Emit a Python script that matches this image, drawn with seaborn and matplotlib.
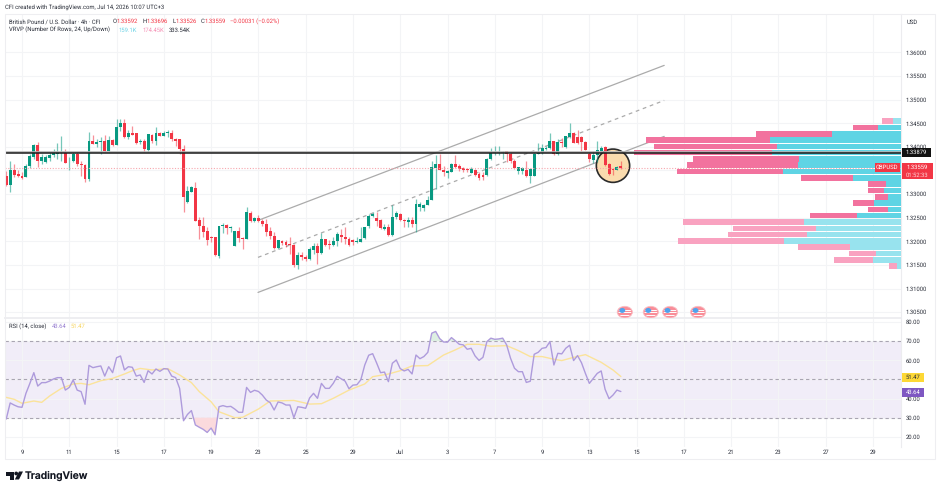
import numpy as np
import pandas as pd
import matplotlib
matplotlib.use("Agg")
import matplotlib.pyplot as plt
from matplotlib.patches import Ellipse, Polygon, Rectangle, Circle
import seaborn as sns

# GBP/USD 4h candles, one row per bar (prices in 1/10000 units)
OPEN = [13339,13320,13350,13343,13339,13336,13359,13378,13404,13370,13368,13377,13382,13385,13386,13387,13369,13370,13385,13363,13361,13332,13413,13407,13411,13413,13391,13415,13403,13442,13450,13420,13429,13429,13410,13413,13394,13426,13413,13429,13424,13430,13430,13417,13416,13395,13284,13305,13313,13246,13232,13221,13210,13209,13168,13232,13235,13228,13191,13221,13207,13205,13260,13243,13249,13244,13237,13221,13211,13185,13200,13198,13193,13192,13150,13170,13166,13162,13182,13190,13175,13205,13195,13193,13200,13214,13209,13205,13202,13198,13198,13207,13232,13253,13249,13245,13226,13230,13214,13251,13258,13245,13240,13245,13236,13272,13271,13277,13288,13356,13364,13352,13345,13347,13364,13360,13356,13353,13345,13352,13343,13341,13341,13375,13387,13387,13387,13391,13385,13371,13348,13348,13351,13339,13339,13384,13389,13396,13398,13412,13385,13410,13399,13420,13429,13420,13420,13411,13385,13373,13383,13392,13399,13364,13353,13351,13359]
HIGH = [13348,13369,13364,13350,13346,13364,13385,13406,13410,13385,13382,13389,13396,13408,13422,13396,13378,13389,13389,13370,13364,13432,13426,13417,13420,13425,13424,13417,13460,13458,13459,13435,13444,13429,13417,13417,13428,13428,13443,13431,13433,13435,13436,13418,13417,13403,13318,13318,13325,13251,13252,13230,13212,13209,13233,13238,13237,13233,13221,13231,13209,13272,13265,13251,13255,13247,13247,13230,13219,13203,13202,13202,13209,13195,13177,13177,13170,13187,13196,13196,13218,13205,13202,13209,13219,13226,13230,13209,13205,13209,13230,13230,13258,13262,13262,13247,13237,13237,13276,13265,13259,13247,13251,13251,13290,13283,13279,13295,13371,13382,13384,13360,13350,13365,13382,13364,13357,13356,13357,13353,13346,13346,13376,13398,13401,13401,13392,13392,13389,13375,13358,13358,13371,13356,13387,13408,13406,13401,13429,13413,13417,13419,13424,13451,13431,13435,13424,13412,13389,13392,13412,13401,13401,13365,13356,13360,13370]
LOW = [13318,13305,13336,13336,13332,13336,13355,13375,13358,13364,13365,13371,13378,13375,13371,13365,13350,13368,13360,13339,13325,13327,13406,13399,13384,13389,13389,13401,13403,13433,13419,13417,13426,13406,13406,13389,13389,13408,13403,13422,13422,13420,13413,13401,13385,13262,13281,13305,13243,13205,13209,13193,13198,13168,13164,13217,13216,13219,13189,13198,13184,13205,13240,13240,13240,13233,13212,13205,13184,13184,13193,13187,13173,13145,13142,13161,13158,13161,13173,13152,13173,13191,13184,13191,13191,13198,13195,13191,13193,13196,13198,13205,13228,13251,13233,13226,13223,13212,13212,13247,13244,13230,13230,13230,13219,13265,13264,13276,13287,13311,13350,13339,13334,13346,13356,13348,13346,13346,13344,13339,13329,13329,13339,13373,13382,13382,13375,13368,13365,13353,13343,13343,13337,13323,13339,13384,13385,13394,13396,13382,13382,13399,13398,13419,13408,13406,13392,13394,13368,13365,13368,13389,13360,13341,13341,13350,13353]
CLOSE = [13320,13350,13341,13338,13334,13360,13380,13403,13370,13378,13378,13383,13387,13389,13387,13365,13370,13385,13363,13361,13332,13413,13407,13410,13413,13391,13415,13403,13443,13450,13420,13429,13426,13408,13413,13395,13428,13413,13429,13423,13430,13431,13416,13413,13395,13293,13306,13315,13243,13232,13219,13202,13208,13170,13232,13234,13228,13229,13221,13206,13205,13261,13244,13250,13243,13236,13219,13211,13186,13202,13197,13192,13192,13150,13170,13166,13162,13183,13190,13175,13205,13192,13192,13200,13216,13209,13205,13192,13198,13200,13205,13230,13254,13258,13244,13228,13230,13214,13251,13259,13245,13242,13245,13236,13279,13278,13277,13288,13357,13364,13352,13347,13348,13364,13358,13353,13351,13350,13353,13341,13335,13336,13375,13387,13389,13389,13390,13385,13371,13356,13357,13355,13339,13353,13384,13387,13397,13398,13413,13385,13410,13408,13422,13430,13408,13408,13410,13394,13375,13383,13394,13398,13362,13343,13351,13358,13356]

# RSI(14) per bar and its smoothing line, sampled at selected bars
RSI = [29.3,37.7,36.6,35.7,35.4,42.7,47.9,53.5,46.5,48.3,48.3,49.1,50.2,50.9,50.9,44.4,45.8,49.7,44.4,43.6,37.0,57.3,56.1,56.6,57.0,51.7,56.6,53.5,61.3,62.2,54.9,56.6,56.3,51.7,52.3,48.4,54.5,52.8,55.4,54.2,55.6,55.4,51.7,50.9,45.3,28.4,31.7,33.7,26.2,25.0,23.9,22.3,24.6,21.1,35.7,36.3,35.7,35.9,34.5,32.8,32.8,45.8,43.2,44.3,43.7,41.8,39.2,37.8,34.0,38.2,37.7,36.6,36.6,30.0,35.7,35.4,34.9,40.3,42.7,40.1,47.9,45.3,45.3,47.9,51.6,50.3,49.1,45.1,47.0,47.2,49.8,57.5,62.6,63.4,58.6,53.5,53.8,48.8,58.4,60.1,55.6,54.4,55.2,52.8,62.7,60.8,61.9,64.1,74.1,75.0,71.3,69.5,69.4,71.8,70.1,68.3,68.0,65.7,66.2,62.2,59.9,61.5,69.7,71.5,70.9,71.1,71.5,68.0,61.0,55.8,54.0,54.0,48.4,49.0,63.1,64.1,66.2,66.6,69.7,57.5,63.6,63.3,66.2,67.8,59.8,62.4,58.7,53.1,47.9,50.5,53.1,54.4,44.8,39.9,41.8,44.4,43.64]
RSI_MA_BARS = [1,3,5,8,10,12,15,18,20,22,25,28,31,33,35,38,42,45,48,50,53,55,59,61,65,68,74,78,81,84,88,92,94,98,101,104,108,112,115,118,121,124,128,131,134,137,140,142,145,148,152,155,157]
RSI_MA = [40.6,39.6,37.5,38.7,38.0,41.3,45.3,47.6,47.9,47.2,49.3,50.5,52.8,54.5,55.7,54.9,55.6,52.3,48.3,43.6,38.3,33.1,30.0,30.2,34.5,38.7,39.0,37.1,37.3,40.1,44.4,47.6,51.4,52.8,54.5,57.0,57.2,62.7,65.4,68.3,68.3,67.3,67.6,65.0,61.9,61.9,60.5,59.8,61.5,62.9,58.9,54.9,51.47]

# Visible-range volume profile, in thousands, from the highest price row down
VP_TOP_PRICE = 1.34544
VP_STEP = 0.001335
VP_UP = [0.9,2.6,7.7,14.6,13.8,14.3,11.3,11.4,13.1,5.3,1.7,1.9,1.4,3.0,1.5,4.9,10.8,9.4,10.4,13.0,5.7,2.8,3.1,0.4]
VP_DOWN = [1.2,2.7,8.4,13.7,13.7,15.4,11.8,12.4,11.8,5.8,2.0,1.8,1.5,2.3,2.2,5.2,13.4,9.3,8.8,11.8,5.8,3.0,4.3,0.9]
VP_IN_VALUE_AREA = [False]+[True]*15+[False]*8

# Rising channel, as (bar, price) end points
CHANNEL_BARS = [64.9, 168.0]
CHANNEL_UPPER = [1.32442, 1.35725]
CHANNEL_MID = [1.31659, 1.34983]
CHANNEL_LOWER = [1.30917, 1.34221]

LEVEL = 1.33879
LAST_PRICE = 1.33559
PRICE_TICKS = [1.305,1.31,1.315,1.32,1.325,1.33,1.335,1.34,1.345,1.35,1.355,1.36]
RSI_TICKS = [20,30,40,50,60,70,80]
DATE_LABELS = ["9","11","15","17","19","23","25","29","Jul","3","7","9","13","15","17","21","23","27","29"]
EVENT_BARS = [158, 164.6, 169.5, 176.6]

GREEN = "#089981"
RED = "#F23645"
TEXT = "#2A2E39"
GRID = "#F3F4F6"
FONT = ["Roboto", "DejaVu Sans"]
SMALL = 4.25

sns.set_theme(style="white")
plt.rcParams["font.family"] = FONT
plt.rcParams["text.hinting"] = "no_hinting"
W, H = 940, 491
fig = plt.figure(figsize=(W/100, H/100), dpi=100, facecolor="white")


def pane(x0, y0, x1, y1):
    return fig.add_axes([x0/W, 1-y1/H, (x1-x0)/W, (y1-y0)/H])


ax = pane(5, 14, 901, 318)
ax_rsi = pane(5, 319, 901, 447)

bars = pd.DataFrame({"bar": np.arange(1, len(OPEN)+1),
                     "open": np.array(OPEN)/1e4, "high": np.array(HIGH)/1e4,
                     "low": np.array(LOW)/1e4, "close": np.array(CLOSE)/1e4})
bars.loc[bars.index[-1], ["open", "high", "low", "close"]] = [1.33592, 1.33696, 1.33526, 1.33559]
bars["rsi"] = RSI
bars["colour"] = np.where(bars.close >= bars.open, GREEN, RED)

x_min, x_max = 0.685, 228.1
tick_bars = [5+12*i for i in range(len(DATE_LABELS))]

# price pane
ax.set_xlim(x_min, x_max)
ax.set_ylim(1.36-(318-52.4)/4722, 1.36+(52.4-14)/4722)
ax.set_yticks(PRICE_TICKS)
ax.set_yticklabels([f"{p:.5f}" for p in PRICE_TICKS])
ax.set_xticks(tick_bars)
ax.tick_params(axis="x", length=0, labelbottom=False)
ax.grid(True, color=GRID, lw=0.8)
ax.set_axisbelow(True)

for upper, style in ((CHANNEL_UPPER, "-"), (CHANNEL_MID, (0, (3, 3))), (CHANNEL_LOWER, "-")):
    sns.lineplot(x=CHANNEL_BARS, y=upper, ax=ax, color="#ABABAB", lw=0.9, ls=style, zorder=2)

ax.add_patch(Ellipse((155.0, 1.3360), 8.45, 0.00705, fc="#FBDCAE", ec="#2A2A2A", lw=1.2, zorder=3))

ax.vlines(bars.bar, bars.low, bars.high, colors=bars.colour, lw=0.9, alpha=0.55, zorder=4)
ax.bar(bars.bar, (bars.close-bars.open).abs().clip(lower=0.00012),
       bottom=bars[["open", "close"]].min(axis=1), width=0.74, color=bars.colour, lw=0, zorder=5)

# volume profile grows leftwards from the pane's right edge
ax_vp = ax.twiny()
ax_vp.set_xlim(896/9.0, 0)
ax_vp.axis("off")
vp_rows = VP_TOP_PRICE-VP_STEP*np.arange(len(VP_UP))
up_colours = ["#5FD4E4" if v else "#98E3EE" for v in VP_IN_VALUE_AREA]
down_colours = ["#F2729E" if v else "#F9A2C0" for v in VP_IN_VALUE_AREA]
ax_vp.barh(vp_rows, VP_UP, height=0.00118, color=up_colours, lw=0, zorder=2)
ax_vp.barh(vp_rows, VP_DOWN, left=VP_UP, height=0.00118, color=down_colours, lw=0, zorder=2)

ax_levels = ax.twinx()
ax_levels.set_ylim(ax.get_ylim())
ax_levels.set_xlim(x_min, x_max)
ax_levels.axis("off")
ax_levels.axhline(LAST_PRICE, color="#F7A7AE", lw=0.8, ls=(0, (1, 1.5)), zorder=1)
ax_levels.axhline(LEVEL+0.00008, color="#B5B5B5", lw=1.2, zorder=2)
ax_levels.axhline(LEVEL, color="#1B1B1B", lw=1.1, zorder=3)

# economic calendar markers
for bar in EVENT_BARS:
    centre = (bar, 1.3050)
    ax_levels.add_patch(Ellipse(centre, 3.85, 0.00245, fc="#F98D98", ec="#F9BEC4", lw=0.6, zorder=4))
    clip = Ellipse(centre, 3.3, 0.002, transform=ax_levels.transData)
    for off in (-0.00055, 0, 0.00055):
        stripe = ax_levels.plot([bar-1.7, bar+1.7], [1.3050+off]*2, color="white", lw=0.7, zorder=5)[0]
        stripe.set_clip_path(clip)
    ax_levels.add_patch(Ellipse((bar-0.65, 1.30535), 1.5, 0.00105, fc="#4FA3EE", lw=0, zorder=6))

# RSI pane
ax_rsi.set_xlim(x_min, x_max)
ax_rsi.set_ylim(14.7, 81.5)
ax_rsi.set_yticks(RSI_TICKS)
ax_rsi.set_yticklabels([f"{v:.2f}" for v in RSI_TICKS])
ax_rsi.set_xticks(tick_bars)
ax_rsi.set_xticklabels(DATE_LABELS)
ax_rsi.grid(True, color=GRID, lw=0.8)
ax_rsi.set_axisbelow(True)
ax_rsi.axhspan(30, 70, color="#7E57C2", alpha=0.10, lw=0, zorder=0.5)
for lvl in (30, 50, 70):
    ax_rsi.axhline(lvl, color="#A9A5B2", lw=0.8, ls=(0, (3, 2.5)), zorder=1)
ax_rsi.fill_between(bars.bar, bars.rsi, 30, where=bars.rsi < 30, color="#FBDADD", lw=0, interpolate=True, zorder=1)
ax_rsi.fill_between(bars.bar, bars.rsi, 70, where=bars.rsi > 70, color="#DDEFE2", lw=0, interpolate=True, zorder=1)
sns.lineplot(x=RSI_MA_BARS, y=RSI_MA, ax=ax_rsi, color="#FBE39A", lw=1.0, zorder=2)
sns.lineplot(data=bars, x="bar", y="rsi", ax=ax_rsi, color="#AE9BDC", lw=1.0, zorder=3)
ax_rsi.set_xlabel("")
ax_rsi.set_ylabel("")
ax.set_xlabel("")
ax.set_ylabel("")

for a in (ax, ax_rsi):
    a.yaxis.tick_right()
    a.tick_params(axis="y", length=0, pad=3.6, labelsize=SMALL, labelcolor=TEXT)
    a.tick_params(axis="x", length=0, pad=2.0, labelsize=SMALL, labelcolor=TEXT)
    for s in a.spines.values():
        s.set_visible(False)
    a.spines["right"].set_visible(True)
    a.spines["right"].set_color("#ECECEF")
    a.spines["right"].set_linewidth(0.8)
ax.spines["bottom"].set_visible(True)
ax.spines["bottom"].set_color("#ECECEF")

# overlay in figure pixels for header text, value tags and branding
deco = fig.add_axes([0, 0, 1, 1], zorder=10)
deco.set_xlim(0, W)
deco.set_ylim(H, 0)
deco.axis("off")
deco.add_patch(Rectangle((5, 14), 930, 445, fc="none", ec="#EEEEF1", lw=0.8))


def label(x, y, s, color=TEXT, size=SMALL, **kw):
    kw.setdefault("va", "center")
    return deco.text(x, y, s, color=color, fontsize=size, **kw)


def tag(x0, y0, x1, y1, color):
    deco.add_patch(Rectangle((x0, y0), x1-x0, y1-y0, fc=color, lw=0))


label(5, 7.5, "CFI created with TradingView.com, Jul 14, 2026 10:07 UTC+3")
label(9, 21.5, "British Pound / U.S. Dollar · 4h · CFI")
for x, s in ((113, "O"), (143, "H"), (173, "L"), (201, "C")):
    label(x, 21.5, s)
for x, s in ((117, "1.33592"), (147, "1.33696"), (176, "1.33526"), (205, "1.33559"), (230, "−0.00031 (−0.02%)")):
    label(x, 21.5, s, color=RED)
label(9, 30, "VRVP (Number Of Rows, 24, Up/Down)")
label(119, 30, "159.1K", color="#6ED3E6")
label(143, 30, "174.45K", color="#F58FB4")
label(169, 30, "333.54K")
label(9, 326.5, "RSI (14, close)")
label(52, 326.5, "43.64", color="#9A82D2")
label(71, 326.5, "51.47", color="#F7D560")
label(907, 22.5, "USD")

tag(875, 163, 899.5, 171.5, RED)
label(887, 167.2, "GBPUSD", color="white", size=4.2, ha="center")
tag(901.5, 163, 932.5, 179, RED)
label(917, 167, "1.33559", color="white", ha="center")
label(917, 175, "01:52:33", color="#FFD5D8", ha="center")
tag(901.5, 148, 931, 156.5, "#111111")
label(916, 152.2, "1.33879", color="white", ha="center")
tag(902, 373, 924, 381.5, "#FDD835")
label(913, 377, "51.47", ha="center")
tag(902, 388, 924, 396.5, "#7E57C2")
label(913, 392.2, "43.64", color="white", ha="center")

# TradingView wordmark
deco.add_patch(Polygon([(6, 471.5), (14, 471.5), (14, 479.5), (10, 479.5), (10, 475.5), (6, 475.5)], fc="#131722", lw=0))
deco.add_patch(Circle((16.2, 473.5), 1.9, fc="#131722", lw=0))
deco.add_patch(Polygon([(19, 471.5), (23, 471.5), (19, 479.5), (14.8, 479.5)], fc="#131722", lw=0))
deco.text(25, 476, "TradingView", color="#131722", fontsize=7.4, family="Inter", weight="semibold", va="center")

fig.savefig("out.png", dpi=100, facecolor="white")
